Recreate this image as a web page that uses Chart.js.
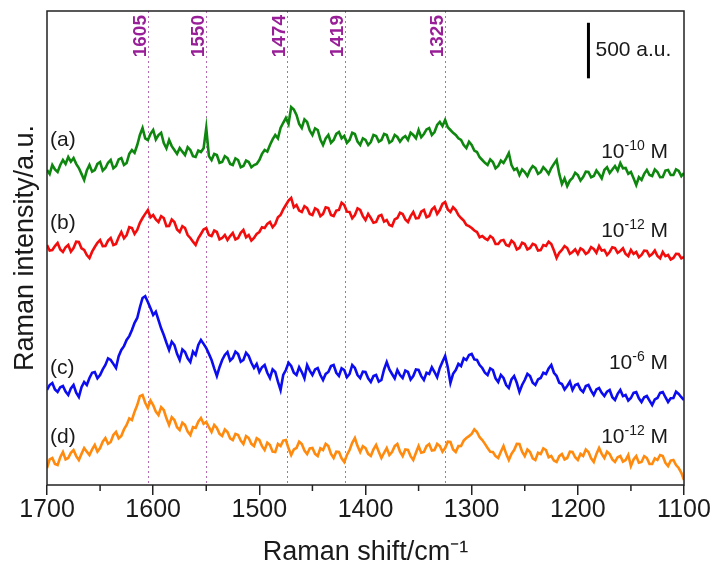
<!DOCTYPE html>
<html>
<head>
<meta charset="utf-8">
<script src="https://cdn.jsdelivr.net/npm/chart.js@4.4.1/dist/chart.umd.min.js"></script>
<style>
  body { margin: 0; background: #fff; }
  canvas { display: block; }
</style>
</head>
<body>
<canvas id="chart" width="716" height="565"></canvas>
<script>
// Raman shift (cm-1), plotted high -> low
const shifts = [
  1700,1697.5,1695,1692.5,1690,1687.5,1685,1682.5,1680,1677.5,1675,1672.5,1670,1667.5,1665,1662.5,1660,1657.5,1655,1652.5,
  1650,1647.5,1645,1642.5,1640,1637.5,1635,1632.5,1630,1627.5,1625,1622.5,1620,1617.5,1615,1612.5,1610,1607.5,1605,1602.5,
  1600,1597.5,1595,1592.5,1590,1587.5,1585,1582.5,1580,1577.5,1575,1572.5,1570,1567.5,1565,1562.5,1560,1557.5,1555,1552.5,
  1550,1547.5,1545,1542.5,1540,1537.5,1535,1532.5,1530,1527.5,1525,1522.5,1520,1517.5,1515,1512.5,1510,1507.5,1505,1502.5,
  1500,1497.5,1495,1492.5,1490,1487.5,1485,1482.5,1480,1477.5,1475,1472.5,1470,1467.5,1465,1462.5,1460,1457.5,1455,1452.5,
  1450,1447.5,1445,1442.5,1440,1437.5,1435,1432.5,1430,1427.5,1425,1422.5,1420,1417.5,1415,1412.5,1410,1407.5,1405,1402.5,
  1400,1397.5,1395,1392.5,1390,1387.5,1385,1382.5,1380,1377.5,1375,1372.5,1370,1367.5,1365,1362.5,1360,1357.5,1355,1352.5,
  1350,1347.5,1345,1342.5,1340,1337.5,1335,1332.5,1330,1327.5,1325,1322.5,1320,1317.5,1315,1312.5,1310,1307.5,1305,1302.5,
  1300,1297.5,1295,1292.5,1290,1287.5,1285,1282.5,1280,1277.5,1275,1272.5,1270,1267.5,1265,1262.5,1260,1257.5,1255,1252.5,
  1250,1247.5,1245,1242.5,1240,1237.5,1235,1232.5,1230,1227.5,1225,1222.5,1220,1217.5,1215,1212.5,1210,1207.5,1205,1202.5,
  1200,1197.5,1195,1192.5,1190,1187.5,1185,1182.5,1180,1177.5,1175,1172.5,1170,1167.5,1165,1162.5,1160,1157.5,1155,1152.5,
  1150,1147.5,1145,1142.5,1140,1137.5,1135,1132.5,1130,1127.5,1125,1122.5,1120,1117.5,1115,1112.5,1110,1107.5,1105,1102.5,
  1100];

// stacked spectra (a.u., offsets included)
const specA = [
  2835,2800,2880,2840,2817,2880,2925,2890,2952,2910,2943,2890,2853,2800,2745,2830,2880,2820,2835,2890,
  2907,2830,2853,2900,2925,2850,2871,2930,2943,2880,2898,2980,3015,2990,3060,3150,3213,3120,3105,3160,
  3195,3110,3150,3170,3078,3030,3105,3050,3015,2980,3033,3000,2970,3040,3015,2960,2952,3010,2997,3030,
  3213,2960,2925,2980,2970,2900,2907,2960,2943,2890,2880,2940,2925,2860,2871,2920,2907,2860,2880,2890,
  2925,2980,3015,3000,3060,3110,3150,3120,3213,3260,3303,3250,3402,3380,3330,3250,3213,3290,3267,3190,
  3150,3210,3195,3110,3060,3120,3150,3080,3105,3160,3177,3120,3141,3080,3105,3170,3159,3090,3060,3120,
  3105,3060,3087,3150,3141,3090,3105,3160,3150,3080,3096,3150,3132,3090,3123,3140,3105,3170,3150,3120,
  3195,3130,3159,3200,3213,3150,3177,3240,3267,3230,3285,3220,3195,3170,3150,3120,3105,3060,3033,3090,
  3060,3010,2997,2950,2925,2900,2880,2930,2907,2850,2871,2920,2898,2940,2988,2880,2835,2850,2790,2840,
  2817,2780,2835,2870,2853,2800,2817,2860,2835,2800,2853,2890,2925,2800,2709,2760,2691,2740,2763,2810,
  2790,2740,2772,2820,2817,2770,2781,2830,2799,2760,2835,2860,2808,2840,2871,2830,2898,2850,2853,2800,
  2817,2760,2700,2770,2745,2800,2835,2790,2781,2840,2817,2770,2772,2830,2835,2790,2790,2840,2826,2780,
  2808];
const specB = [
  2160,2110,2115,2150,2178,2120,2097,2140,2160,2100,2133,2190,2187,2130,2115,2070,2043,2100,2142,2180,
  2205,2150,2151,2200,2223,2160,2169,2230,2277,2220,2250,2320,2313,2260,2295,2360,2403,2440,2475,2410,
  2430,2390,2367,2420,2403,2330,2331,2390,2367,2300,2277,2330,2313,2250,2223,2190,2160,2220,2259,2300,
  2313,2250,2241,2290,2277,2210,2223,2250,2205,2240,2268,2210,2223,2270,2295,2230,2250,2200,2223,2260,
  2277,2320,2313,2350,2367,2320,2349,2410,2430,2480,2520,2560,2583,2500,2520,2470,2457,2510,2493,2440,
  2430,2490,2475,2420,2439,2500,2493,2430,2421,2470,2475,2540,2520,2460,2457,2400,2430,2490,2475,2420,
  2385,2440,2403,2360,2367,2420,2430,2370,2385,2340,2331,2390,2403,2450,2439,2390,2367,2420,2457,2400,
  2403,2460,2475,2410,2421,2480,2502,2440,2475,2530,2547,2480,2457,2500,2475,2430,2403,2380,2340,2330,
  2313,2290,2277,2230,2241,2220,2205,2240,2223,2170,2169,2200,2205,2160,2151,2200,2178,2120,2133,2180,
  2169,2120,2133,2170,2160,2110,2115,2160,2151,2190,2169,2110,2043,2090,2115,2150,2133,2080,2097,2120,
  2079,2130,2115,2080,2097,2140,2124,2090,2151,2110,2115,2070,2097,2140,2133,2090,2106,2130,2079,2060,
  2115,2080,2097,2050,2070,2110,2106,2060,2079,2110,2061,2040,2097,2060,2070,2030,2043,2080,2079,2040,
  2052];
const specC = [
  855,900,918,860,837,880,891,840,810,870,900,830,792,880,927,900,963,1010,1017,960,
  990,1040,1080,1140,1125,1090,1053,1160,1215,1250,1305,1340,1395,1460,1503,1600,1683,1700,1647,1590,
  1530,1560,1485,1410,1350,1280,1215,1290,1260,1180,1125,1220,1197,1140,1107,1200,1170,1260,1305,1270,
  1233,1180,1125,1050,981,1060,1125,1170,1197,1120,1143,1200,1179,1110,1125,1190,1161,1100,1053,1090,
  1017,1060,1080,1010,963,1040,1017,930,855,990,1035,1100,1071,1010,990,1060,1017,960,1080,1030,
  990,1040,1053,990,945,1000,1017,1070,1080,1010,981,1050,1035,970,999,1080,1053,990,963,1020,
  1017,960,927,980,990,930,945,1040,1107,1040,999,960,1035,990,963,1030,1017,950,981,1040,
  1035,980,945,1010,999,1060,1017,970,1053,1110,1161,1060,918,1000,1035,1090,1071,1140,1125,1170,
  1179,1130,1125,1080,1053,1010,990,1050,1035,960,927,990,963,900,873,950,981,920,837,900,
  945,1000,981,920,900,950,963,1010,999,1050,1080,1010,981,920,909,860,891,930,855,900,
  909,860,837,890,900,850,810,860,873,830,801,840,855,790,765,820,855,800,810,760,
  783,830,837,780,747,790,801,760,720,770,783,830,837,790,747,780,783,840,819,790,
  765];
const specD = [
  153,230,243,190,180,250,297,230,243,290,315,260,225,280,333,300,270,320,360,300,
  333,390,423,370,387,450,477,420,441,500,540,600,585,660,720,800,810,740,693,760,
  720,660,630,700,675,600,540,610,585,520,495,560,540,480,450,520,513,570,603,550,
  567,520,477,540,513,460,441,500,477,420,405,460,450,400,369,440,423,370,351,420,
  405,350,315,380,360,300,297,370,351,400,405,330,270,320,333,390,369,310,279,330,
  333,280,261,330,315,370,351,280,243,300,297,240,207,270,315,380,423,350,297,350,
  333,280,261,320,360,300,243,290,333,270,297,350,369,300,261,320,315,260,225,290,
  351,290,297,350,369,310,315,370,351,300,333,390,387,320,297,350,351,400,423,440,
  459,500,477,430,405,370,333,300,297,260,243,300,351,280,225,280,315,370,369,300,
  261,320,297,240,225,290,279,330,315,250,261,220,207,260,279,230,243,300,297,250,
  225,280,261,320,297,240,207,280,333,280,243,300,279,230,207,250,261,210,225,270,
  171,230,261,200,207,260,243,190,189,240,225,270,261,200,171,220,225,180,153,110,
  45];

const seriesNames = ["(a)", "(b)", "(c)", "(d)"];
const concExp = ["-10", "-12", "-6", "-12"];
const peaks = [1605, 1550, 1474, 1419, 1325];
const minorTicks = [1650, 1550, 1450, 1350, 1250, 1150];
const barSize = 500;

const FONT = "'Liberation Sans', Arial, sans-serif";
const colors = ["#0e870e", "#f20c0c", "#0c0cf0", "#ff8a0d"];
const specs = [specA, specB, specC, specD];

// where the text annotations sit (data coords)
const nameY = [3105, 2358, 1053, 432];
const concY = [2943, 2232, 1044, 378];

const annotations = {
  id: "annotations",
  beforeDatasetsDraw(chart) {
    const { ctx, chartArea: a, scales: { x } } = chart;
    ctx.save();
    ctx.strokeStyle = "#b56cb5";
    ctx.lineWidth = 1;
    ctx.setLineDash([2, 3]);
    peaks.forEach(p => {
      const px = Math.round(x.getPixelForValue(p)) + 0.5;
      ctx.beginPath();
      ctx.moveTo(px, a.top);
      ctx.lineTo(px, a.bottom);
      ctx.stroke();
    });
    ctx.restore();
  },
  afterDatasetsDraw(chart) {
    const { ctx, chartArea: a, scales: { x, y } } = chart;
    ctx.save();

    // frame + minor ticks
    ctx.strokeStyle = "#222";
    ctx.lineWidth = 1.5;
    ctx.strokeRect(a.left, a.top, a.right - a.left, a.bottom - a.top);
    minorTicks.forEach(t => {
      const px = x.getPixelForValue(t);
      ctx.beginPath();
      ctx.moveTo(px, a.bottom);
      ctx.lineTo(px, a.bottom + 6);
      ctx.stroke();
    });

    // peak labels
    ctx.fillStyle = "#991f99";
    ctx.font = "bold 19px " + FONT;
    ctx.textAlign = "right";
    ctx.textBaseline = "alphabetic";
    peaks.forEach(p => {
      const px = x.getPixelForValue(p);
      ctx.save();
      ctx.translate(px - 2, a.top + 4);
      ctx.rotate(-Math.PI / 2);
      ctx.fillText(String(p), 0, 0);
      ctx.restore();
    });

    // scale bar
    const bx = x.getPixelForValue(1190);
    const y1 = y.getPixelForValue(4160), y2 = y.getPixelForValue(4160 - barSize);
    ctx.strokeStyle = "#000";
    ctx.lineWidth = 3;
    ctx.beginPath();
    ctx.moveTo(bx, y1);
    ctx.lineTo(bx, y2);
    ctx.stroke();
    ctx.fillStyle = "#1a1a1a";
    ctx.font = "21px " + FONT;
    ctx.textAlign = "left";
    ctx.textBaseline = "middle";
    ctx.fillText(barSize + " a.u.", bx + 7, (y1 + y2) / 2);

    // series letters
    ctx.font = "21px " + FONT;
    seriesNames.forEach((n, i) => {
      ctx.fillText(n, a.left + 3, y.getPixelForValue(nameY[i]));
    });

    // concentrations, 10^n M
    ctx.textBaseline = "alphabetic";
    const xr = x.getPixelForValue(1115);
    concExp.forEach((e, i) => {
      const by = y.getPixelForValue(concY[i]);
      ctx.font = "21px " + FONT;
      const w1 = ctx.measureText("10").width, w3 = ctx.measureText(" M").width;
      ctx.font = "14px " + FONT;
      const w2 = ctx.measureText(e).width;
      const cx = xr - (w1 + w2 + w3);
      ctx.font = "21px " + FONT;
      ctx.fillText("10", cx, by);
      ctx.font = "14px " + FONT;
      ctx.fillText(e, cx + w1, by - 8);
      ctx.font = "21px " + FONT;
      ctx.fillText(" M", cx + w1 + w2, by);
    });

    ctx.restore();
  }
};

new Chart(document.getElementById("chart"), {
  type: "line",
  data: {
    datasets: specs.map((s, i) => ({
      label: seriesNames[i],
      data: shifts.map((w, j) => ({ x: w, y: s[j] })),
      borderColor: colors[i],
      borderWidth: 2.6,
      pointRadius: 0,
      tension: 0,
      fill: false
    }))
  },
  options: {
    responsive: false,
    animation: false,
    layout: { padding: { top: 11, right: 32, left: 0, bottom: 0 } },
    plugins: { legend: { display: false }, tooltip: { enabled: false } },
    scales: {
      x: {
        type: "linear",
        reverse: true,
        min: 1100,
        max: 1700,
        afterFit(s) { s.height = 80; },
        border: { display: false },
        grid: { drawOnChartArea: false, drawTicks: true, tickLength: 10, color: "#222", lineWidth: 1.5 },
        ticks: {
          stepSize: 100,
          padding: 0,
          maxRotation: 0,
          color: "#1a1a1a",
          font: { family: FONT, size: 25 },
          callback: v => String(v)
        },
        title: {
          display: true,
          text: "Raman shift/cm\u207B\u00B9",
          color: "#1a1a1a",
          font: { family: FONT, size: 27, lineHeight: 0.9 },
          padding: 0
        }
      },
      y: {
        min: 0,
        max: 4266,
        afterFit(s) { s.width = 47; },
        border: { display: false },
        grid: { display: false },
        ticks: { display: false },
        title: {
          display: true,
          text: "Raman intensity/a.u.",
          color: "#1a1a1a",
          font: { family: FONT, size: 27 },
          padding: { top: 9, bottom: 0 }
        }
      }
    }
  },
  plugins: [annotations]
});
</script>
</body>
</html>
